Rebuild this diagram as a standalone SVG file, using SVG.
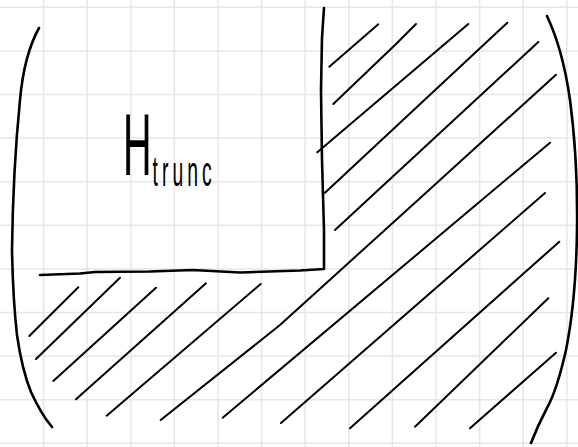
<svg xmlns="http://www.w3.org/2000/svg" width="578" height="447" viewBox="0 0 578 447">
<style>
.grid line{stroke:#e6e6e6;stroke-width:1.5}
.ink{fill:none;stroke:#000;stroke-linecap:round;stroke-linejoin:round}
.thick{stroke-width:2.6}
.hatch path{fill:none;stroke:#000;stroke-width:2;stroke-linecap:round;stroke-linejoin:round}
.lbl{font-family:"Liberation Sans",Arial,sans-serif;fill:#000}
</style>
<rect width="578" height="447" fill="#fff"/>
<g id="grid" class="grid">
<line x1="43.6" y1="0" x2="43.6" y2="447"/><line x1="87.2" y1="0" x2="87.2" y2="447"/><line x1="130.8" y1="0" x2="130.8" y2="447"/><line x1="174.4" y1="0" x2="174.4" y2="447"/><line x1="218" y1="0" x2="218" y2="447"/><line x1="261.6" y1="0" x2="261.6" y2="447"/><line x1="305.2" y1="0" x2="305.2" y2="447"/><line x1="348.8" y1="0" x2="348.8" y2="447"/><line x1="392.4" y1="0" x2="392.4" y2="447"/><line x1="436" y1="0" x2="436" y2="447"/><line x1="479.6" y1="0" x2="479.6" y2="447"/><line x1="523.2" y1="0" x2="523.2" y2="447"/><line x1="566.8" y1="0" x2="566.8" y2="447"/>
<line x1="0" y1="7.3" x2="578" y2="7.3"/><line x1="0" y1="50.9" x2="578" y2="50.9"/><line x1="0" y1="94.5" x2="578" y2="94.5"/><line x1="0" y1="138.1" x2="578" y2="138.1"/><line x1="0" y1="181.7" x2="578" y2="181.7"/><line x1="0" y1="225.3" x2="578" y2="225.3"/><line x1="0" y1="268.9" x2="578" y2="268.9"/><line x1="0" y1="312.5" x2="578" y2="312.5"/><line x1="0" y1="356.1" x2="578" y2="356.1"/><line x1="0" y1="399.7" x2="578" y2="399.7"/><line x1="0" y1="443.3" x2="578" y2="443.3"/>
</g>
<g id="left-bracket">
<path class="ink thick" d="M39,28 Q24,55 20,100 Q13,170 12,250 Q13,300 17,335 Q22,370 31,392 Q41,414 52,427"/>
</g>
<g id="right-bracket">
<path class="ink thick" d="M547,16 Q563,50 570,100 Q578,160 577,230 Q576,300 566,350 Q557,390 547,408 Q538,425 531,443"/>
</g>
<g id="box-H">
<path class="ink thick" d="M324,8 L322,38 L321,90 L322,160 L324,230 L324,269 L300,270.5 L240,272.5 L193,270 L150,271.5 L95,272 L80,273.5 L40,275"/>
</g>
<g id="label">
<text class="lbl" transform="scale(0.45,1)" x="273.3" y="175" font-size="88">H<tspan font-size="43" dx="2" dy="11" letter-spacing="9">trunc</tspan></text>
</g>
<g id="hatch" class="hatch">
<path d="M329.3,66.7 L378.3,24.3"/>
<path d="M333.3,104 L395,45 L416,24"/>
<path d="M317.3,152.3 L468.3,24"/>
<path d="M325,192.7 L507.3,22.7"/>
<path d="M335,230 L538.3,42"/>
<path d="M160.7,420 L280,325 L418,200 L556,74.7"/>
<path d="M222.7,417.7 L550,142.7"/>
<path d="M281,423 L545,193"/>
<path d="M350,428.3 L559.3,241.7"/>
<path d="M415,426.7 L548.3,298.3"/>
<path d="M470,428.3 L556,352.7"/>
<path d="M29.3,336 L78.3,287.3"/>
<path d="M36,359 L120,277.7"/>
<path d="M53.3,381 L156,287.7"/>
<path d="M76,399.3 L206,283.3"/>
<path d="M106.7,415.7 L260.7,284"/>
</g>
</svg>
